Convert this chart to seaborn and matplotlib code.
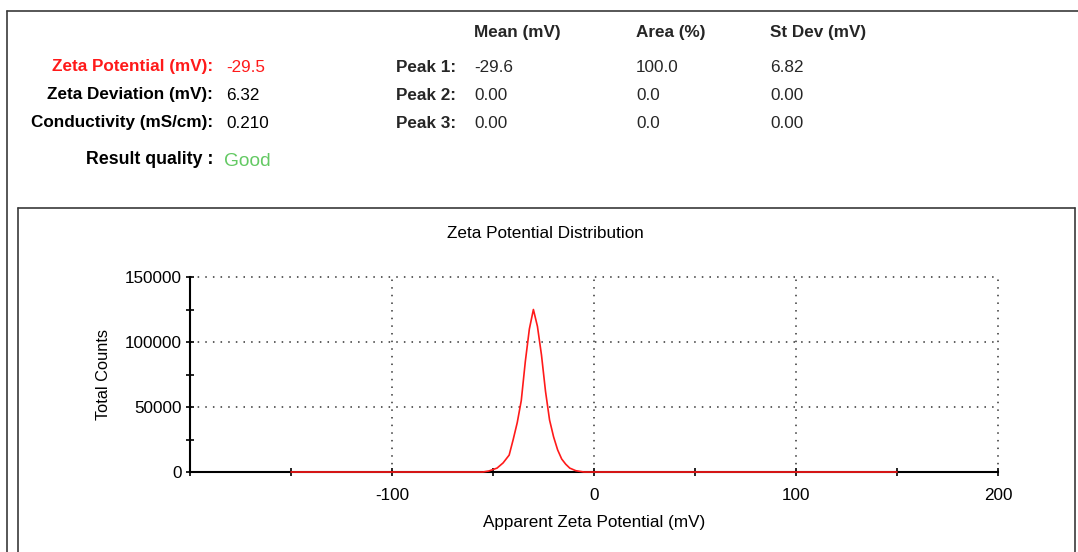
import matplotlib
matplotlib.use("Agg")
import matplotlib.pyplot as plt
from matplotlib.lines import Line2D
from matplotlib.ticker import MultipleLocator
import seaborn as sns
import pandas as pd

# ---- data ----
zeta_mv = [-150, -55, -52, -48, -45, -42, -40, -38, -36, -34, -32, -30, -28, -26,
           -24, -22, -20, -18, -16, -14, -12, -9, -5, 150]
counts = [0, 0, 800, 3000, 7000, 13000, 25000, 38000, 55000, 85000, 110000, 125000,
          112000, 90000, 62000, 40000, 27000, 17000, 10000, 6000, 3000, 1000, 0, 0]

summary_labels = ["Zeta Potential (mV):", "Zeta Deviation (mV):", "Conductivity (mS/cm):"]
summary_values = ["-29.5", "6.32", "0.210"]
peak_labels = ["Peak 1:", "Peak 2:", "Peak 3:"]
col_headers = ["Mean (mV)", "Area (%)", "St Dev (mV)"]
peak_mean = ["-29.6", "0.00", "0.00"]
peak_area = ["100.0", "0.0", "0.0"]
peak_sd = ["6.82", "0.00", "0.00"]
quality = "Good"

x_ticks = [-100, 0, 100, 200]
y_ticks = [0, 50000, 100000, 150000]

sns.set_theme(style="white")
plt.rcParams["font.family"] = ["Liberation Sans", "DejaVu Sans"]

W, H = 1078, 552
fig = plt.figure(figsize=(W / 100, H / 100), dpi=100)
fig.patch.set_facecolor("white")

def fx(px):
    return px / W

def fy(py):
    return 1 - py / H

# frames
fcol = "#3a3a3a"
fig.add_artist(Line2D([fx(7), fx(1078)], [fy(11), fy(11)], color=fcol, lw=1.2))
fig.add_artist(Line2D([fx(7), fx(7)], [fy(11), fy(552)], color=fcol, lw=1.2))
fig.add_artist(Line2D([fx(18), fx(1075)], [fy(208), fy(208)], color=fcol, lw=1.2))
fig.add_artist(Line2D([fx(18), fx(18)], [fy(208), fy(552)], color=fcol, lw=1.2))
fig.add_artist(Line2D([fx(1075), fx(1075)], [fy(208), fy(552)], color=fcol, lw=1.2))

# header texts
red = "#ff1a1a"
fs = 12.3
rows_y = [67, 95, 123]
for i, (lab, val) in enumerate(zip(summary_labels, summary_values)):
    c = red if i == 0 else "black"
    fig.text(fx(213), fy(rows_y[i]), lab, ha="right", va="center", fontsize=fs,
             fontweight="bold", color=c)
    fig.text(fx(226), fy(rows_y[i]), val, ha="left", va="center", fontsize=fs, color=c)
fig.text(fx(213), fy(160), "Result quality :", ha="right", va="center", fontsize=fs + 0.5,
         fontweight="bold", color="black")
fig.text(fx(224), fy(161), quality, ha="left", va="center", fontsize=fs + 1.5,
         color="#63c963")

col_x = [474, 636, 770]
for cx, h in zip(col_x, col_headers):
    fig.text(fx(cx), fy(33), h, ha="left", va="center", fontsize=fs, fontweight="bold")
for i, lab in enumerate(peak_labels):
    fig.text(fx(456), fy(rows_y[i]), lab, ha="right", va="center", fontsize=fs,
             fontweight="bold")
    for cx, col in zip(col_x, [peak_mean, peak_area, peak_sd]):
        fig.text(fx(cx), fy(rows_y[i]), col[i], ha="left", va="center", fontsize=fs)

# chart
ax = fig.add_axes([fx(190), fy(472), fx(998) - fx(190), (472 - 277) / H])
ax.set_facecolor("white")
df = pd.DataFrame({"x": zeta_mv, "y": counts})
sns.lineplot(data=df, x="x", y="y", sort=False, color="#ff1a1a", linewidth=1.2,
             ax=ax, zorder=4, clip_on=False)
ax.set_xlim(-200, 200)
ax.set_ylim(0, 150000)
ax.set_xticks(x_ticks)
ax.set_xticklabels([str(t) for t in x_ticks])
ax.set_yticks(y_ticks)
ax.set_yticklabels([str(t) for t in y_ticks])
ax.xaxis.set_minor_locator(MultipleLocator(50))
ax.yaxis.set_minor_locator(MultipleLocator(25000))
ax.tick_params(axis="both", which="both", direction="inout", length=6, width=1.2,
               color="black", labelsize=fs, labelcolor="black",
               bottom=True, left=True)
ax.tick_params(axis="x", pad=8.5)
ax.tick_params(axis="y", pad=3)
ax.grid(True, which="major", color="#333333", linestyle=(0, (1, 4)), linewidth=1.1)
for gl in ax.get_xgridlines() + ax.get_ygridlines():
    gl.set_clip_on(False)
for s in ["top", "right"]:
    ax.spines[s].set_visible(False)
for s in ["left", "bottom"]:
    ax.spines[s].set_color("black")
    ax.spines[s].set_linewidth(1.5)
    ax.spines[s].set_zorder(3)
ax.set_xlabel("Apparent Zeta Potential (mV)", fontsize=fs, labelpad=9, color="black")
ax.set_ylabel("Total Counts", fontsize=fs - 0.5, labelpad=10, color="black")
fig.text(fx(545), fy(234), "Zeta Potential Distribution", ha="center", va="center",
         fontsize=fs, color="black")

fig.savefig("out.png", dpi=100)
